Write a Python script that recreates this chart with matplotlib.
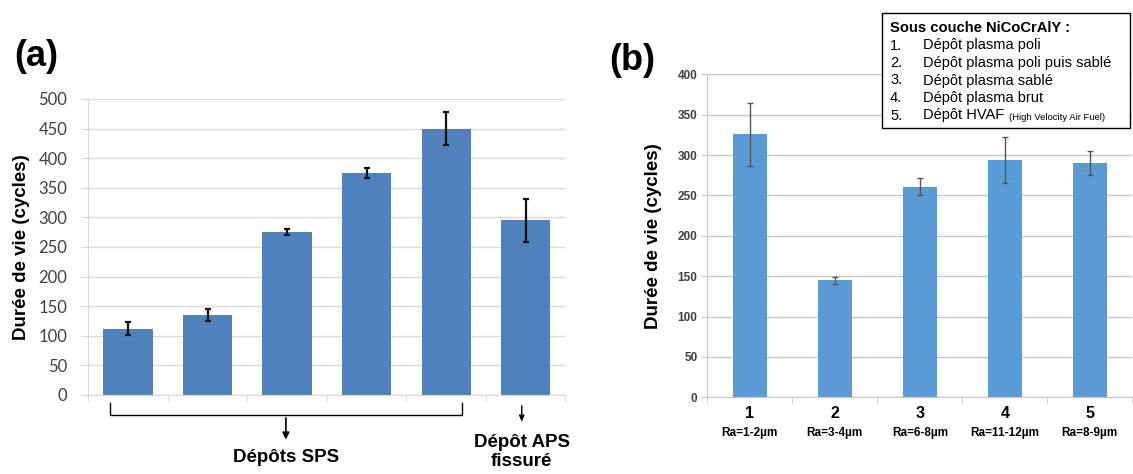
import matplotlib.pyplot as plt
import matplotlib.transforms as mtransforms
import numpy as np

plt.rcParams['font.family'] = ['Liberation Sans', 'DejaVu Sans']

# panel (a): SPS deposits + cracked APS deposit
life_a = [112, 135, 275, 375, 450, 295]
err_a = [11, 10, 5.5, 9, 28, 36]
yticks_a = [0, 50, 100, 150, 200, 250, 300, 350, 400, 450, 500]

# panel (b): NiCoCrAlY bond coat preparations
cat_b = ['1', '2', '3', '4', '5']
ra_b = ['Ra=1-2µm', 'Ra=3-4µm', 'Ra=6-8µm', 'Ra=11-12µm', 'Ra=8-9µm']
life_b = [326, 145, 261, 294, 290]
err_b = [39, 4.5, 10, 28, 15]
yticks_b = [0, 50, 100, 150, 200, 250, 300, 350, 400]

legend_title = 'Sous couche NiCoCrAlY :'
legend_items = ['Dépôt plasma poli', 'Dépôt plasma poli puis sablé',
                'Dépôt plasma sablé', 'Dépôt plasma brut', 'Dépôt HVAF']

fig = plt.figure(figsize=(11.33, 4.74), dpi=100)

# ---------------- (a) ----------------
ax = fig.add_axes([0.0779, 0.1667, 0.4212, 0.6245])
x = np.arange(len(life_a))
ax.bar(x, life_a, width=0.62, color='#4F81BD', zorder=2)
ax.errorbar(x, life_a, yerr=err_a, fmt='none', ecolor='#111111',
            elinewidth=1.6, capsize=2, capthick=1.6, zorder=3)
ax.set_xlim(-0.5, len(life_a) - 0.5)
ax.set_ylim(0, 500)
ax.set_yticks(yticks_a)
ax.set_yticklabels([str(v) for v in yticks_a], fontsize=12, color='#404040', family='Lato')
ax.yaxis.grid(True, color='#D9D9D9', lw=1, zorder=0)
ax.set_xticks([])
ax.set_xticks(np.arange(-0.5, len(life_a)), minor=True)
ax.tick_params(axis='x', which='minor', length=5, color='#D9D9D9', direction='out')
ax.tick_params(axis='y', length=5, color='#D9D9D9', pad=10)
for s in ['top', 'right']:
    ax.spines[s].set_visible(False)
ax.spines['left'].set_color('#D9D9D9')
ax.spines['bottom'].set_color('#D9D9D9')
ax.set_ylabel('Durée de vie (cycles)', fontsize=13.5, fontweight='bold', labelpad=6)

# brace under the SPS bars, arrow under the APS bar
tr = mtransforms.blended_transform_factory(ax.transData, ax.transAxes)
x0, x1 = x[0] - 0.23, x[4] + 0.2
xc = (x0 + x1) / 2
ax.plot([x0, x0, x1, x1], [-0.027, -0.068, -0.068, -0.027], color='black',
        lw=1, transform=tr, clip_on=False, solid_joinstyle='round')
ax.annotate('', xy=(xc, -0.16), xytext=(xc, -0.068), xycoords=tr, textcoords=tr,
            arrowprops=dict(arrowstyle='-|>,head_width=0.2,head_length=0.4',
                            color='black', lw=1.2))
ax.text(xc, -0.21, 'Dépôts SPS', transform=tr, ha='center', va='center',
        fontsize=13.5, fontweight='bold')
ax.annotate('', xy=(x[5] - 0.05, -0.1), xytext=(x[5] - 0.05, -0.027), xycoords=tr,
            textcoords=tr,
            arrowprops=dict(arrowstyle='-|>,head_width=0.15,head_length=0.35',
                            color='black', lw=1))
ax.text(x[5] - 0.05, -0.193, 'Dépôt APS\nfissuré', transform=tr, ha='center',
        va='center', fontsize=13.5, fontweight='bold', linespacing=1.1)

fig.text(0.032, 0.88, '(a)', fontsize=26, fontweight='bold', ha='center', va='center')

# ---------------- (b) ----------------
bx = fig.add_axes([0.6243, 0.1618, 0.3751, 0.6814])
xb = np.arange(len(life_b))
bx.bar(xb, life_b, width=0.4, color='#5B9BD5', zorder=2)
bx.errorbar(xb, life_b, yerr=err_b, fmt='none', ecolor='#555555',
            elinewidth=1, capsize=2, capthick=1, zorder=3)
bx.set_xlim(-0.5, len(life_b) - 0.5)
bx.set_ylim(0, 400)
bx.set_yticks(yticks_b)
bx.set_yticklabels([str(v) for v in yticks_b], fontsize=8.5, fontweight='bold',
                   color='#404040')
bx.yaxis.grid(True, color='#C8C8C8', lw=1, zorder=0)
bx.set_xticks(xb)
bx.set_xticklabels(cat_b, fontsize=11.5, fontweight='bold')
bx.tick_params(axis='x', which='major', length=0, pad=6)
bx.set_xticks(np.arange(-0.5, len(life_b)), minor=True)
bx.tick_params(axis='x', which='minor', length=4, color='#C8C8C8', direction='out')
bx.tick_params(axis='y', length=4, color='#C8C8C8', pad=3)
for s in ['top', 'right']:
    bx.spines[s].set_visible(False)
bx.spines['left'].set_color('#C8C8C8')
bx.spines['bottom'].set_color('#C8C8C8')
bx.set_ylabel('Durée de vie (cycles)', fontsize=13.5, fontweight='bold', labelpad=11)

trb = mtransforms.blended_transform_factory(bx.transData, bx.transAxes)
for xi, r in zip(xb, ra_b):
    bx.text(xi, -0.112, r, transform=trb, ha='center', va='center',
            fontsize=8.5, fontweight='bold')

fig.text(0.558, 0.872, '(b)', fontsize=26, fontweight='bold', ha='center', va='center')

# legend box (text block, top right)
bx_l, bx_b, bx_w, bx_h = 881.7 / 1133, 1 - 128.3 / 474, (1130 - 881.7) / 1133, 115 / 474
fig.patches.append(plt.Rectangle((bx_l, bx_b), bx_w, bx_h, transform=fig.transFigure,
                                 facecolor='white', edgecolor='black', lw=1, zorder=5))
fig.text(890 / 1133, 1 - 31.5 / 474, legend_title, fontsize=10.6, fontweight='bold',
         va='baseline', zorder=6)
for i, item in enumerate(legend_items):
    yy = 1 - (49.5 + 17.5 * i) / 474
    fig.text(890 / 1133, yy, f'{i + 1}.', fontsize=10.5, va='baseline', zorder=6)
    fig.text(923 / 1133, yy, item, fontsize=10.5, va='baseline', zorder=6)
    if i == 4:
        fig.text(1009 / 1133, yy, '(High Velocity Air Fuel)', fontsize=6.8,
                 va='baseline', zorder=6)

fig.savefig('out.png', dpi=100)
